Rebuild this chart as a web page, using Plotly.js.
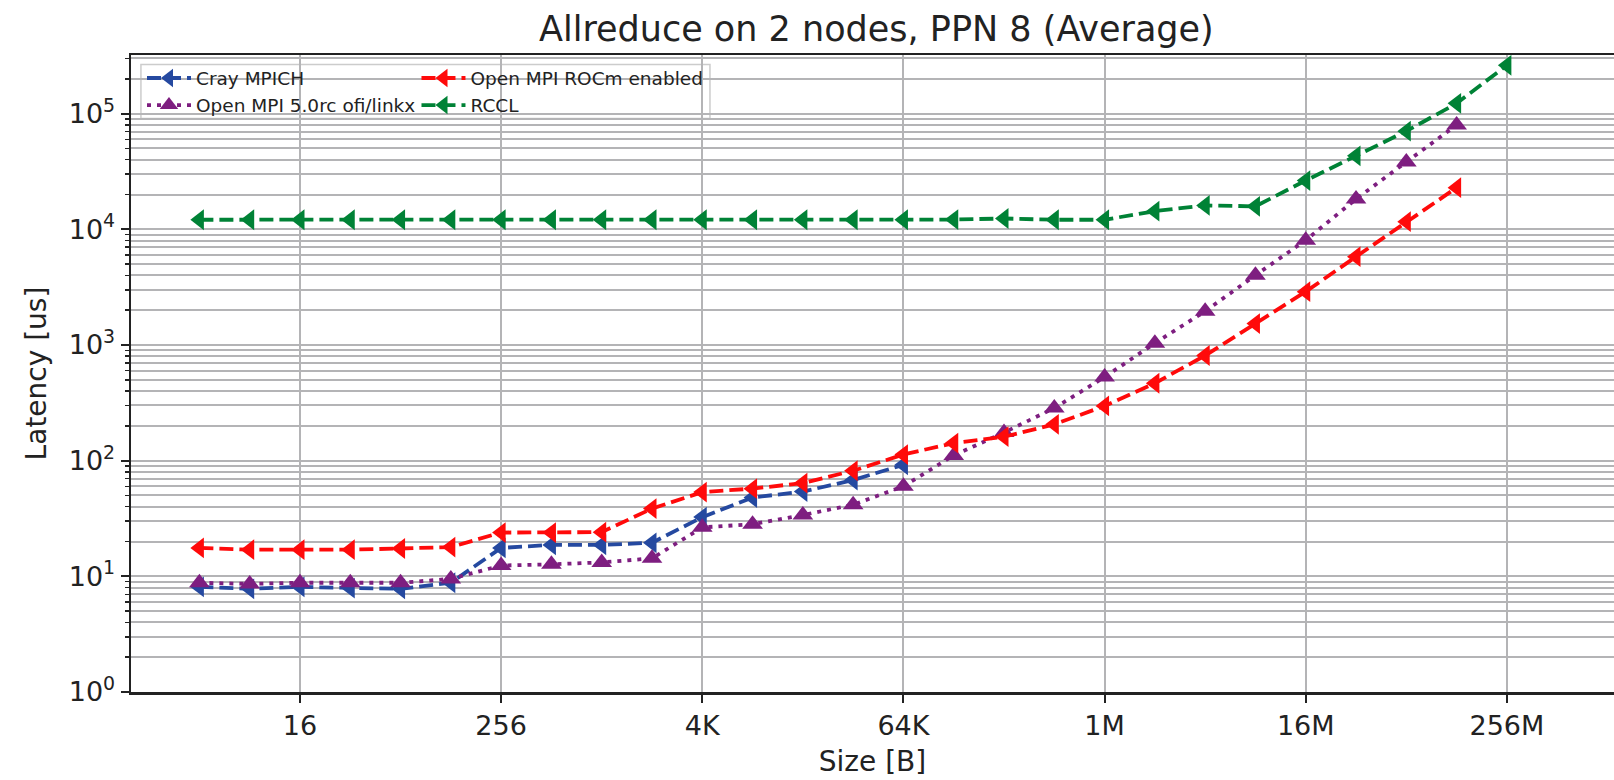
<!DOCTYPE html>
<html>
<head>
<meta charset="utf-8">
<script src="https://cdn.plot.ly/plotly-3.0.1.min.js"></script>
<style>
html,body{margin:0;padding:0;background:#fff;}
#chart{width:1614px;height:780px;}
</style>
</head>
<body>
<div id="chart"></div>
<script>
// Message sizes in bytes (powers of two from 4 B to 256 MB)
const sizes = [4, 8, 16, 32, 64, 128, 256, 512, 1024, 2048, 4096, 8192, 16384, 32768, 65536,
  131072, 262144, 524288, 1048576, 2097152, 4194304, 8388608, 16777216, 33554432,
  67108864, 134217728, 268435456];

// Latency [us]
const crayMpich = [8.1, 7.8, 8.1, 7.9, 7.8, 8.8, 17.6, 18.7, 18.7, 19.5, 32.5, 48, 54, 68, 92];
const openmpi5 = [8.8, 8.6, 8.8, 8.8, 8.8, 9.5, 12.4, 12.7, 13.2, 14.3, 26.5, 28.2, 33.9, 41.6, 60,
  111, 175, 285, 528, 1037, 1958, 4010, 8050, 18270, 38200, 79800];
const openmpiRocm = [17.6, 17.0, 17.0, 17.0, 17.4, 17.9, 23.9, 23.9, 24.1, 38.5, 53.5, 57.3, 64, 81.8, 113,
  142, 161, 206, 297, 467, 811, 1531, 2890, 5800, 11640, 22900];
const rccl = [12100, 12100, 12100, 12100, 12100, 12100, 12100, 12100, 12100, 12100, 12100, 12100, 12100, 12100, 12100,
  12150, 12400, 12100, 12100, 14360, 16100, 15800, 26400, 43200, 70600, 122700, 262000];

const seriesNames = ["Cray MPICH", "Open MPI 5.0rc ofi/linkx", "Open MPI ROCm enabled", "RCCL"];

const xTickVals = [16, 256, 4096, 65536, 1048576, 16777216, 268435456];
const xTickText = ["16", "256", "4K", "64K", "1M", "16M", "256M"];
const yTickVals = [1, 10, 100, 1000, 10000, 100000];
const yTickText = ["10<sup>0</sup>", "10<sup>1</sup>", "10<sup>2</sup>", "10<sup>3</sup>", "10<sup>4</sup>", "10<sup>5</sup>"];

const yMinor = [];
for (let e = 0; e <= 5; e++) {
  for (let m = 2; m <= 9; m++) yMinor.push(m * Math.pow(10, e));
}

const colors = ["#2549a0", "#7e1e80", "#ff0a0a", "#008236"];

function tr(y, i, dash, symbol, legendId) {
  return {
    x: sizes.slice(0, y.length), y: y, name: seriesNames[i], type: "scatter", mode: "lines+markers",
    line: {color: colors[i], width: 3.8, dash: dash},
    marker: {color: colors[i], size: 18, symbol: symbol},
    legend: legendId
  };
}

const data = [
  tr(crayMpich, 0, "14px,6px", "triangle-left", "legend"),
  tr(openmpi5, 1, "4px,6px", "triangle-up", "legend"),
  tr(openmpiRocm, 2, "14px,6px", "triangle-left", "legend2"),
  tr(rccl, 3, "14px,6px", "triangle-left", "legend2")
];

const L2 = Math.log10(2);
const legendFont = {size: 18.5, family: "DejaVu Sans", color: "#222"};
const layout = {
  width: 1614, height: 780,
  margin: {l: 131, r: 0, t: 54.5, b: 88.3},
  paper_bgcolor: "#fff", plot_bgcolor: "#fff",
  font: {family: "DejaVu Sans", color: "#222", size: 20},
  title: {text: "Allreduce on 2 nodes, PPN 8 (Average)", x: 0.543, xanchor: "center", y: 0.963, yanchor: "middle",
    font: {size: 35, family: "DejaVu Sans", color: "#222"}},
  showlegend: true,
  legend: {x: 0.0074, y: 0.993, xanchor: "left", yanchor: "top", orientation: "v",
    itemwidth: 44, bgcolor: "rgba(0,0,0,0)", borderwidth: 0, font: legendFont, tracegroupgap: 0},
  legend2: {x: 0.1925, y: 0.993, xanchor: "left", yanchor: "top", orientation: "v",
    itemwidth: 44, bgcolor: "rgba(0,0,0,0)", borderwidth: 0, font: legendFont, tracegroupgap: 0},
  shapes: [{type: "rect", xref: "paper", yref: "paper", x0: 0.0067, x1: 0.3904, y0: 0.9003, y1: 0.9851,
    fillcolor: "rgba(255,255,255,0.8)", line: {color: "#cccccc", width: 1.5}, layer: "below"}],
  xaxis: {
    type: "log", range: [0.64 * L2, 30.13 * L2],
    tickmode: "array", tickvals: xTickVals, ticktext: xTickText,
    ticks: "outside", ticklen: 8, tickwidth: 2, tickcolor: "#222",
    showline: true, linecolor: "#222", linewidth: 2.5, mirror: true,
    showgrid: true, gridcolor: "#b4b4b6", gridwidth: 2,
    zeroline: false,
    tickfont: {size: 27, family: "DejaVu Sans", color: "#222"},
    title: {text: "Size [B]", font: {size: 28, family: "DejaVu Sans", color: "#222"}, standoff: 12}
  },
  yaxis: {
    type: "log", range: [0, 5.507],
    tickmode: "array", tickvals: yTickVals, ticktext: yTickText,
    ticks: "outside", ticklen: 8, tickwidth: 2, tickcolor: "#222",
    showline: true, linecolor: "#222", linewidth: 2.5, mirror: false,
    showgrid: true, gridcolor: "#b4b4b6", gridwidth: 2,
    zeroline: false,
    minor: {tickmode: "array", tickvals: yMinor, ticks: "outside", ticklen: 4, tickwidth: 1.5, tickcolor: "#222",
      showgrid: true, gridcolor: "#b4b4b6", gridwidth: 2},
    tickfont: {size: 27, family: "DejaVu Sans", color: "#222"},
    title: {text: "Latency [us]", font: {size: 28, family: "DejaVu Sans", color: "#222"}, standoff: 14}
  }
};

Plotly.newPlot("chart", data, layout, {displayModeBar: false, staticPlot: true});
</script>
</body>
</html>
